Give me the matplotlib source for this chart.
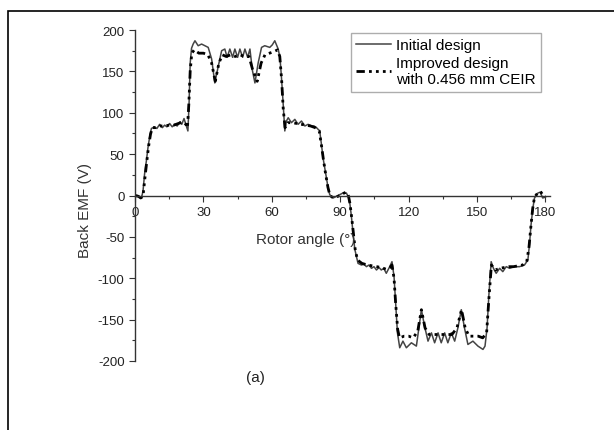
import matplotlib
matplotlib.use("Agg")
import matplotlib.pyplot as plt
from matplotlib.patches import Rectangle
from matplotlib.ticker import MultipleLocator

plt.rcParams['font.family'] = ['Liberation Sans', 'DejaVu Sans']
plt.rcParams['axes.unicode_minus'] = False

# initial design (solid line), rotor angle in degrees, back EMF in volts
angle_init = [0, 1, 2, 2.8, 3.5, 4.2, 5, 5.7, 6.5, 7.2,
              8.6, 9.6, 10.8, 12, 13, 14, 15.2, 16.3, 17.4, 18.5,
              19.7, 20.5, 21.5, 22.5, 23.2, 23.7, 24.2, 24.8, 25.5, 26.3,
              27.7, 29.2, 30.7, 32.1, 33.6, 35, 36.5, 38, 39.4, 40.4,
              41.6, 42.8, 43.8, 45, 46, 47.2, 48.2, 49.4, 50.4, 51.5,
              52.6, 54, 55.5, 56.9, 58, 59.1, 60.2, 61.3, 62.8, 63.6,
              64.2, 65, 65.7, 66.4, 67.2, 68.6, 70.1, 71.5, 73, 74.5,
              75.9, 77.4, 78.5, 79.6, 81, 81.8, 82.5, 83.7, 84.7, 85.4,
              86.9, 89, 91.2, 92.7, 93.6, 94.2, 94.9, 95.6, 96.4, 97.8,
              99.3, 100.4, 101.5, 102.6, 103.7, 104.8, 105.9, 107, 108, 109.1,
              110.2, 111.7, 112.7, 113.6, 114.2, 115.1, 116.1, 117.5, 119, 121.2,
              123.4, 124.1, 125.6, 127, 128.5, 130, 131.4, 132.9, 134.3, 135.8,
              137.2, 138.7, 140.2, 141.6, 143.1, 144.5, 146, 148.2, 150.4, 152.6,
              153.5, 154.4, 155.2, 156.2, 157.2, 158.4, 159.9, 161.3, 162.8, 164.3,
              166.4, 168.6, 170.8, 172.3, 173, 173.7, 174.5, 175.2, 176.7, 177.7,
              178.8, 180]
emf_init = [0, 0, -2, -3, 5, 26, 42, 58, 72, 81,
            83, 81, 86, 82, 85, 83, 87, 83, 86, 84,
            89, 86, 93, 84, 78, 110, 160, 178, 183, 187,
            181, 183, 181, 179, 165, 136, 156, 175, 177, 167,
            177, 167, 177, 167, 177, 167, 177, 167, 177, 151,
            136, 160, 179, 181, 180, 179, 182, 187, 177, 166,
            144, 110, 78, 90, 94, 88, 92, 86, 90, 84,
            86, 84, 84, 82, 78, 61, 45, 25, 9, 1,
            -3, 0, 3, 3, -2, -9, -25, -45, -65, -82,
            -84, -83, -86, -84, -88, -86, -90, -87, -90, -88,
            -94, -86, -80, -98, -126, -166, -184, -176, -184, -178,
            -182, -168, -138, -158, -176, -166, -178, -166, -178, -166,
            -178, -166, -176, -160, -138, -160, -180, -176, -182, -186,
            -182, -160, -120, -80, -88, -94, -88, -92, -86, -88,
            -86, -86, -84, -78, -59, -35, -15, -3, 3, 4,
            -3, -2]

# improved design with 0.456 mm CEIR (dash-dot-dot line)
angle_impr = [0, 1.5, 2.5, 3.5, 4.3, 5.2, 6, 6.8, 7.6, 9,
              11, 13, 15, 17, 19, 21, 22.3, 23, 23.6, 24.2,
              24.9, 26, 28, 30, 32, 33.6, 35.2, 36.8, 38.3, 40,
              42, 44, 46, 48, 50, 51.6, 53.6, 55.3, 57, 59,
              61, 62.5, 63.5, 64.3, 65, 65.8, 67, 69, 71, 73,
              75, 77, 79, 80.8, 81.8, 82.6, 83.6, 84.6, 85.5, 87,
              89, 91, 92.5, 93.5, 94.3, 95, 95.8, 96.6, 97.6, 99.5,
              102, 104, 106, 108, 110, 111.8, 112.7, 113.6, 114.3, 115.2,
              116, 118, 120, 122, 124, 125.6, 127.2, 129, 131, 133,
              135, 137, 139, 141.2, 143.2, 144.8, 146.5, 148.5, 150.5, 152.5,
              154.2, 155.2, 156.3, 158, 160, 162, 164, 166, 168, 170,
              171.8, 172.8, 173.6, 174.4, 175.2, 176.6, 177.8, 179, 180]
emf_impr = [0, -1, -3, -1, 20, 42, 60, 74, 82, 82,
            84, 84, 85, 85, 87, 89, 86, 82, 110, 150,
            172, 176, 172, 172, 170, 160, 138, 160, 170, 168,
            170, 168, 170, 168, 168, 152, 138, 160, 170, 172,
            174, 176, 168, 140, 105, 82, 88, 88, 87, 86,
            85, 84, 82, 78, 60, 44, 26, 10, 0, -3,
            -1, 2, 4, 1, -10, -26, -46, -66, -78, -82,
            -84, -85, -86, -87, -89, -87, -84, -100, -130, -162,
            -172, -170, -170, -172, -164, -138, -160, -168, -168, -168,
            -168, -168, -168, -160, -138, -160, -170, -170, -170, -172,
            -166, -125, -84, -90, -88, -87, -86, -86, -85, -84,
            -80, -62, -38, -16, -2, 3, 5, 0, -1]

x_major = [0, 30, 60, 90, 120, 150, 180]
y_major = [-200, -150, -100, -50, 0, 50, 100, 150, 200]

W, H = 614, 431
fig = plt.figure(figsize=(W / 100, H / 100), dpi=100)
ax = fig.add_axes([135 / W, 1 - 362 / H, 415 / W, 331 / H])

ax.plot(angle_init, emf_init, '-', color='#444444', lw=1.1, label='Initial design')
ax.plot(angle_impr, emf_impr, color='black', lw=2.0,
        dashes=(3, 1.5, 1, 1.5, 1, 1.5, 1, 1.5),
        label='Improved design\nwith 0.456 mm CEIR')

ax.set_xlim(0, 182)
ax.set_ylim(-200, 200)
ax.set_xticks(x_major)
ax.set_yticks(y_major)
ax.xaxis.set_minor_locator(MultipleLocator(15))
ax.yaxis.set_minor_locator(MultipleLocator(25))

ax.spines['bottom'].set_position(('data', 0))
ax.spines['top'].set_visible(False)
ax.spines['right'].set_visible(False)
for s in ('left', 'bottom'):
    ax.spines[s].set_color('#333333')
    ax.spines[s].set_linewidth(1.0)
ax.tick_params(which='major', direction='out', length=4, width=0.8,
               colors='#333333', labelsize=9.5, labelcolor='#222222')
ax.tick_params(which='minor', direction='out', length=2.5, width=0.8, colors='#333333')
ax.patch.set_alpha(0)

leg = ax.legend(loc='upper right', bbox_to_anchor=(541 / W, 1 - 34 / H),
                bbox_transform=fig.transFigure, fontsize=11, frameon=True,
                fancybox=False, handlelength=2.3, handletextpad=0.3,
                borderpad=0.35, labelspacing=0.25, borderaxespad=0)
leg.get_frame().set_edgecolor('#999999')
leg.get_frame().set_linewidth(1.0)

fig.text(256 / W, 1 - 240 / H, 'Rotor angle (°)', fontsize=11, color='#333333',
         ha='left', va='center', zorder=0)
fig.text(85 / W, 1 - 210 / H, 'Back EMF (V)', fontsize=11, color='#333333',
         rotation=90, ha='center', va='center')
fig.text(255 / W, 1 - 378 / H, '(a)', fontsize=11, color='#222222',
         ha='center', va='center')

# outer frame of the figure panel
fig.patches.append(Rectangle((8 / W, -0.2), 1.2, 1.2 - 12 / H,
                             transform=fig.transFigure, fill=False,
                             edgecolor='black', lw=1.2))

fig.savefig('out.png', dpi=100)
